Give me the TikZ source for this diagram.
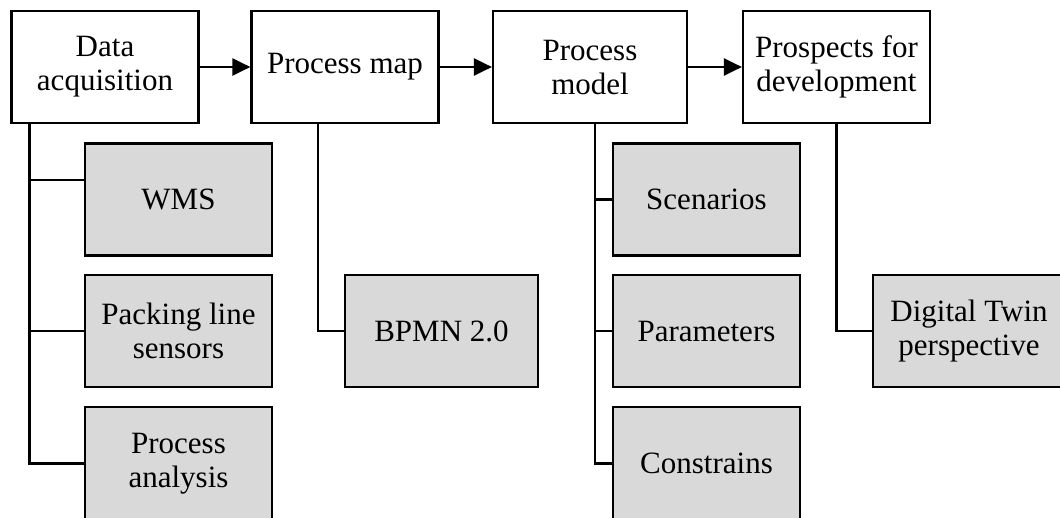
\documentclass[tikz,border=0pt]{standalone}
\usepackage{fontspec}
\setmainfont{Liberation Serif}
\usetikzlibrary{arrows.meta}
\begin{document}
\begin{tikzpicture}[x=1pt,y=-1pt,
  box/.style={draw=black,line width=2.2pt,fill=white,minimum width=187pt,minimum height=112pt,inner sep=0pt,align=center,font=\fontsize{31}{34}\selectfont},
  subbox/.style={box,fill=gray!30},
  link/.style={draw=black,line width=2.2pt},
  flow/.style={link,-{Triangle[length=18pt,width=17pt]}}]
\useasboundingbox (0,0) rectangle (1060,517);
\clip (0,0) rectangle (1060,517);
% top row
\node[box] (da) at (105,67) {Data\\acquisition};
\node[box] (pm) at (345,67) {Process map};
\node[box,minimum width=194pt] (pmod) at (590,67) {Process\\model};
\node[box] (pros) at (836.5,67) {Prospects for\\development};
% sub boxes
\node[subbox] (wms) at (178.5,199.5) {WMS};
\node[subbox] (pls) at (178.5,331) {Packing line\\sensors};
\node[subbox,minimum height=113pt] (pa) at (178.5,463.5) {Process\\analysis};
\node[subbox,minimum width=193pt] (bpmn) at (441.5,331) {BPMN 2.0};
\node[subbox] (sc) at (706.5,199.5) {Scenarios};
\node[subbox] (par) at (706.5,331) {Parameters};
\node[subbox,minimum height=113pt] (con) at (706.5,463.5) {Constrains};
\node[subbox,minimum width=192pt] (dt) at (969,331) {Digital Twin\\perspective};
% flow arrows
\draw[flow] (da) -- (pm);
\draw[flow] (pm) -- (pmod);
\draw[flow] (pmod) -- (pros);
% branches
\coordinate (dab) at ([xshift=19pt]da.south west);
\draw[link] (dab) |- ([yshift=19.5pt]wms.west);
\draw[link] (dab) |- (pls.west);
\draw[link] (dab) |- (pa.west);
\draw[link] ([xshift=-27pt]pm.south) |- (bpmn.west);
\coordinate (pmodb) at ([xshift=5pt]pmod.south);
\draw[link] (pmodb) |- (sc.west);
\draw[link] (pmodb) |- (par.west);
\draw[link] (pmodb) |- (con.west);
\draw[link] (pros.south) |- (dt.west);
\end{tikzpicture}
\end{document}
